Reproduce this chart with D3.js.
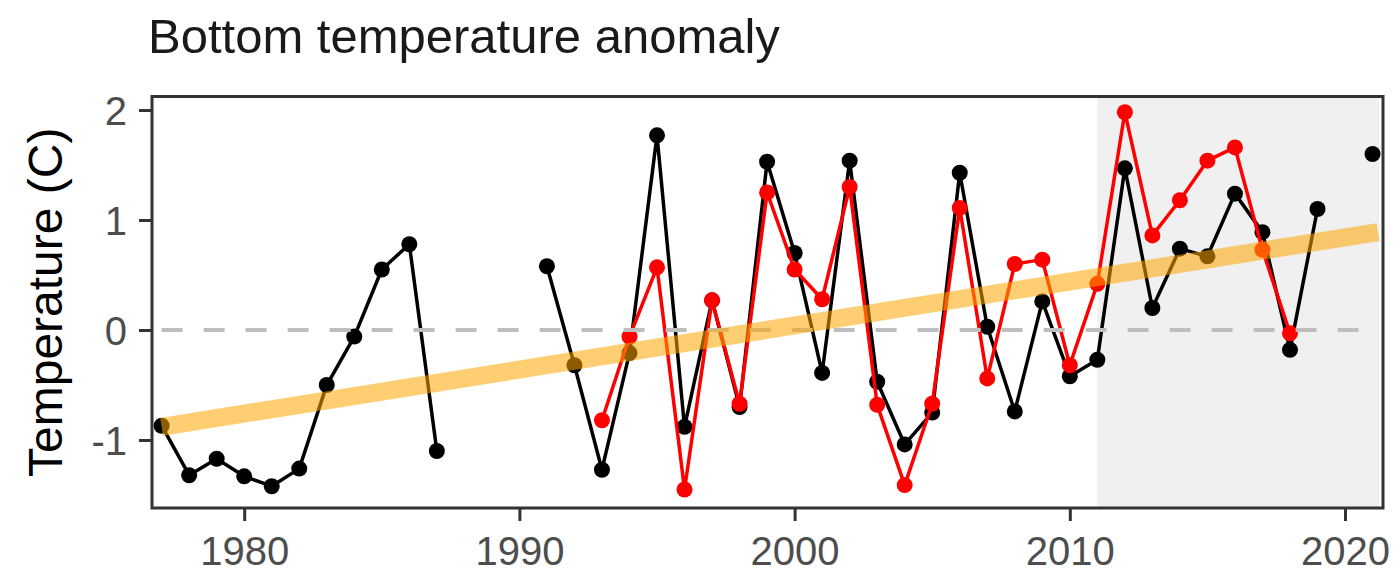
<!DOCTYPE html>
<html>
<head>
<meta charset="utf-8">
<script src="https://cdn.jsdelivr.net/npm/d3@7"></script>
<style>
  body { margin: 0; background: #fff; }
  text { font-family: 'Liberation Sans', Arial, sans-serif; }
</style>
</head>
<body>
<svg id="chart"></svg>
<script>
// DATA
const years = [1977, 1978, 1979, 1980, 1981, 1982, 1983, 1984, 1985, 1986, 1987, 1988, 1989, 1990,
  1991, 1992, 1993, 1994, 1995, 1996, 1997, 1998, 1999, 2000, 2001, 2002, 2003, 2004, 2005, 2006,
  2007, 2008, 2009, 2010, 2011, 2012, 2013, 2014, 2015, 2016, 2017, 2018, 2019, 2020, 2021];
const bottomTemp = [-0.87, -1.32, -1.17, -1.33, -1.42, -1.26, -0.5, -0.06, 0.55, 0.78, -1.1, null, null, null,
  0.58, -0.32, -1.27, -0.21, 1.77, -0.88, 0.27, -0.7, 1.53, 0.7, -0.39, 1.54, -0.47, -1.04, -0.75, 1.43,
  0.03, -0.74, 0.26, -0.42, -0.27, 1.47, 0.2, 0.74, 0.67, 1.24, 0.89, -0.18, 1.1, null, 1.6];

const modelYears = [1993, 1994, 1995, 1996, 1997, 1998, 1999, 2000, 2001, 2002, 2003, 2004, 2005,
  2006, 2007, 2008, 2009, 2010, 2011, 2012, 2013, 2014, 2015, 2016, 2017, 2018];
const modelTemp = [-0.82, -0.06, 0.57, -1.45, 0.27, -0.67, 1.25, 0.55, 0.28, 1.3, -0.68, -1.41, -0.67,
  1.11, -0.44, 0.6, 0.64, -0.32, 0.42, 1.98, 0.86, 1.18, 1.54, 1.66, 0.73, -0.03];

const trendYears = [1977, 2021.2];
const trendTemp = [-0.88, 0.89];

const shadeYears = [2011, 2021.25];

const xTicks = [1980, 1990, 2000, 2010, 2020];
const yTicks = [-1, 0, 1, 2];

const title = 'Bottom temperature anomaly';
const yLabel = 'Temperature (C)';

// SETUP
const width = 1394;
const height = 575;
const panel = { left: 152, right: 1383, top: 96.5, bottom: 508 };

const svg = d3.select('#chart').attr('width', width).attr('height', height);

const xScale = d3.scaleLinear().domain([1976.65, 2021.38]).range([panel.left, panel.right]);
const yScale = d3.scaleLinear().domain([-1.618, 2.123]).range([panel.bottom, panel.top]);

const observed = years.map((y, i) => ({ year: y, v: bottomTemp[i] }));
const model = modelYears.map((y, i) => ({ year: y, v: modelTemp[i] }));
const trend = trendYears.map((y, i) => ({ year: y, v: trendTemp[i] }));

// SHADED RECENT PERIOD
svg.append('rect')
  .attr('x', xScale(shadeYears[0]))
  .attr('y', panel.top)
  .attr('width', xScale(shadeYears[1]) - xScale(shadeYears[0]))
  .attr('height', panel.bottom - panel.top)
  .attr('fill', '#f0f0f0');

// SERIES
const line = d3.line()
  .defined((d) => d.v != null)
  .x((d) => xScale(d.year))
  .y((d) => yScale(d.v));

function drawSeries(data, color) {
  svg.append('path')
    .datum(data)
    .attr('d', line)
    .attr('fill', 'none')
    .attr('stroke', color)
    .attr('stroke-width', 3.5)
    .attr('stroke-linejoin', 'round');

  svg.append('g')
    .selectAll('circle')
    .data(data.filter((d) => d.v != null))
    .join('circle')
    .attr('cx', (d) => xScale(d.year))
    .attr('cy', (d) => yScale(d.v))
    .attr('r', 8)
    .attr('fill', color);
}

drawSeries(observed, '#000000');
drawSeries(model, '#ff0000');

// ZERO LINE
svg.append('line')
  .attr('x1', xScale(1977))
  .attr('x2', xScale(2021))
  .attr('y1', yScale(0))
  .attr('y2', yScale(0))
  .attr('stroke', '#bebebe')
  .attr('stroke-width', 4)
  .attr('stroke-dasharray', '21,21');

// TREND BAND
svg.append('path')
  .datum(trend)
  .attr('d', line)
  .attr('fill', 'none')
  .attr('stroke', 'orange')
  .attr('stroke-opacity', 0.55)
  .attr('stroke-width', 18);

// AXES
const xAxis = d3.axisBottom(xScale).tickValues(xTicks).tickFormat((d) => String(d)).tickSize(13);
const gx = svg.append('g')
  .attr('transform', `translate(0,${panel.bottom})`)
  .call(xAxis);

const yAxis = d3.axisLeft(yScale).tickValues(yTicks).tickFormat((d) => String(d)).tickSize(13);
const gy = svg.append('g')
  .attr('transform', `translate(${panel.left},0)`)
  .call(yAxis);

[gx, gy].forEach((g) => {
  g.select('.domain').remove();
  g.selectAll('.tick line').attr('stroke', '#333333').attr('stroke-width', 3);
  g.selectAll('.tick text')
    .attr('fill', '#4d4d4d')
    .style('font-size', '40px');
});
gx.selectAll('.tick text').attr('y', 57).attr('dy', 0);
gy.selectAll('.tick text').attr('x', -25).attr('dy', '0.36em');

// PANEL BORDER
svg.append('rect')
  .attr('x', panel.left)
  .attr('y', panel.top)
  .attr('width', panel.right - panel.left)
  .attr('height', panel.bottom - panel.top)
  .attr('fill', 'none')
  .attr('stroke', '#333333')
  .attr('stroke-width', 3);

// TEXT
svg.append('text')
  .attr('x', 148)
  .attr('y', 53)
  .style('font-size', '49px')
  .attr('fill', '#1a1a1a')
  .text(title);

svg.append('text')
  .attr('transform', `translate(62,${(panel.top + panel.bottom) / 2}) rotate(-90)`)
  .style('text-anchor', 'middle')
  .style('font-size', '48px')
  .attr('fill', '#000')
  .text(yLabel);
</script>
</body>
</html>
